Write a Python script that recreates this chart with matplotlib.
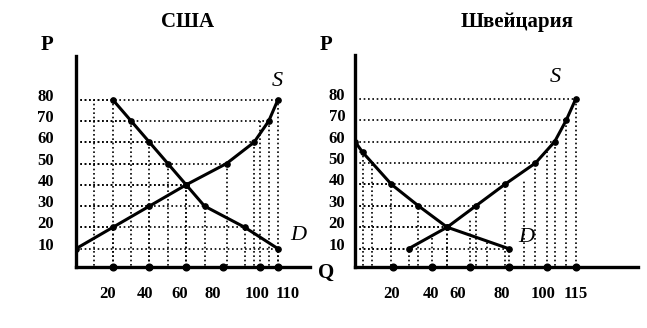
import matplotlib
matplotlib.use("Agg")
import matplotlib.pyplot as plt
import matplotlib.transforms as mtransforms

plt.rcParams['font.family'] = ['Liberation Serif', 'DejaVu Serif']

W, H = 647, 328

# ---------------- data ----------------
us_title = "США"
us_demand_q = [20, 30, 40, 50, 60, 70, 92, 110]
us_demand_p = [80, 70, 60, 50, 40, 30, 20, 10]
us_supply_q = [0, 20, 40, 60, 82, 97, 105, 110]
us_supply_p = [10, 20, 30, 40, 50, 60, 70, 80]
us_extra_q = [10, 100]
us_extra_p = [80, 70]
us_xticks = [20, 40, 60, 80, 100, 110]

sw_title = "Швейцария"
sw_demand_q = [0, 4, 19, 33, 48, 80]
sw_demand_p = [60, 55, 40, 30, 20, 10]
sw_supply_q = [28, 48, 63, 78, 94, 104, 110, 115]
sw_supply_p = [10, 20, 30, 40, 50, 60, 70, 80]
sw_extra_q = [9, 40, 60, 69, 88, 100]
sw_extra_p = [50, 15, 24, 14, 42, 55]
sw_xticks = [20, 40, 60, 80, 100, 115]

yticks = [10, 20, 30, 40, 50, 60, 70, 80]

# label nudges (pixels) to mimic the hand-set labels of the scan
us_label_shift = [-5, -4, -6, -10, -3, 10]
sw_label_shift = [-2, -1, -13, -7, -4, 0]

fig = plt.figure(figsize=(W / 100, H / 100), dpi=100)


def px_rect(x0, y_top, x1, y_bot):
    return [x0 / W, 1 - y_bot / H, (x1 - x0) / W, (y_bot - y_top) / H]


def draw(ax, dq, dp, sq, sp, eq, ep, xticks, xmax, ypad, shifts):
    ax.set_xlim(0, xmax)
    ax.set_ylim(1.4, 100.5)
    dot = dict(color='black', linestyle=(0, (1.0, 1.6)), linewidth=1.2)
    for q, p in list(zip(dq, dp)) + list(zip(sq, sp)):
        ax.plot([0, q], [p, p], **dot)
        ax.plot([q, q], [0, p], **dot)
    for q, p in zip(eq, ep):
        ax.plot([q, q], [0, p], **dot)
    ax.plot(dq, dp, color='black', lw=2.2, marker='o', ms=3.8, zorder=5)
    ax.plot(sq, sp, color='black', lw=2.2, marker='o', ms=3.8, zorder=5)
    ax.plot(xticks, [1.4] * len(xticks), linestyle='none', marker='o',
            color='black', ms=4.8, clip_on=False, zorder=6)
    for s in ['top', 'right']:
        ax.spines[s].set_visible(False)
    for s in ['left', 'bottom']:
        ax.spines[s].set_linewidth(2.4)
    ax.set_xticks(xticks)
    ax.set_xticklabels([str(t) for t in xticks], fontsize=12, fontweight='bold')
    ax.set_yticks(yticks)
    ax.set_yticklabels([str(t) for t in yticks], fontsize=12, fontweight='bold')
    ax.tick_params(axis='both', length=0)
    ax.tick_params(axis='x', pad=14)
    ax.tick_params(axis='y', pad=ypad)
    off = mtransforms.ScaledTranslation(0, 5 / 100, fig.dpi_scale_trans)
    for lab in ax.get_yticklabels():
        lab.set_transform(lab.get_transform() + off)
    for lab, sh in zip(ax.get_xticklabels(), shifts):
        offx = mtransforms.ScaledTranslation(sh / 100, 0, fig.dpi_scale_trans)
        lab.set_transform(lab.get_transform() + offx)


ax1 = fig.add_axes(px_rect(76, 56, 310, 267))
draw(ax1, us_demand_q, us_demand_p, us_supply_q, us_supply_p,
     us_extra_q, us_extra_p, us_xticks, (310 - 76) / 1.836, 16, us_label_shift)

ax2 = fig.add_axes(px_rect(355, 55, 638, 267))
draw(ax2, sw_demand_q, sw_demand_p, sw_supply_q, sw_supply_p,
     sw_extra_q, sw_extra_p, sw_xticks, (638 - 355) / 1.92, 7, sw_label_shift)


def ftext(x, y, s, **kw):
    fig.text(x / W, 1 - y / H, s, ha='center', va='center', **kw)


ftext(188, 22, us_title, fontsize=15, fontweight='bold')
ftext(517, 22, sw_title, fontsize=15, fontweight='bold')
ftext(47, 45, "P", fontsize=15, fontweight='bold')
ftext(326, 45, "P", fontsize=15, fontweight='bold')
ftext(326, 273, "Q", fontsize=15, fontweight='bold')
ftext(277, 82, "S", fontsize=16, style='italic')
ftext(298, 235, "D", fontsize=16, style='italic')
ftext(555, 78, "S", fontsize=16, style='italic')
ftext(526, 237, "D", fontsize=16, style='italic')

fig.savefig("out.png", dpi=100)
